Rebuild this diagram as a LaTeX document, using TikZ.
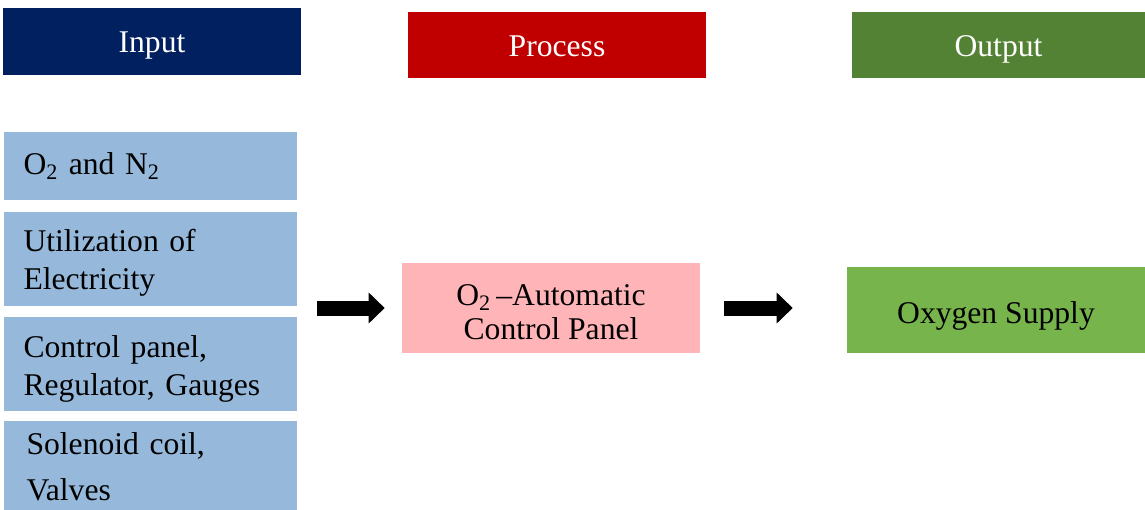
\documentclass[tikz,border=0pt]{standalone}
\usepackage{fontspec}
\setmainfont{Liberation Serif}
\usepackage{xcolor}
\usetikzlibrary{positioning, arrows.meta}

\definecolor{InHead}{HTML}{002060}
\definecolor{ProcHead}{HTML}{C00000}
\definecolor{OutHead}{HTML}{548235}
\definecolor{InFill}{HTML}{96B9DB}
\definecolor{ProcFill}{HTML}{FFB5B8}
\definecolor{OutFill}{HTML}{78B44C}

\newcommand{\LineLift}{\rule{0pt}{17pt}}

\begin{document}
\begin{tikzpicture}[x=0.02cm, y=-0.02cm,
					HeadNode/.style={inner sep=0pt, minimum width=5.96cm, minimum height=1.32cm, text height=17pt, text depth=4pt, text=white, font=\fontsize{18}{21.6}\selectfont},
					InNode/.style={fill=InFill, inner sep=0pt, inner xsep=0.4cm, text width=5.08cm, align=left, font=\fontsize{18}{21.6}\selectfont},
					FlowNode/.style={inner sep=0pt, minimum width=5.96cm, align=center, font=\fontsize{18}{19.4}\selectfont},
					FlowArrow/.style={line width=0.3cm, -{Triangle[width=0.6cm, length=0.32cm]}}]

				\useasboundingbox (0,0) rectangle (1145,510);

				% Headers
				\node[HeadNode, fill=InHead, minimum height=1.34cm] (InTitle) at (152,41.5) {Input};
				\node[HeadNode, fill=ProcHead] (ProcTitle) at (557,45) {Process};
				\node[HeadNode, fill=OutHead, minimum width=5.86cm] (OutTitle) at (998.5,45) {Output};

				% Input column
				\node[InNode, minimum height=1.36cm] (InA) at (150.5,166) {O\textsubscript{2} and N\textsubscript{2}};
				\node[InNode, minimum height=1.88cm] (InB) [below=0.22cm of InA] {\LineLift Utilization of\\Electricity};
				\node[InNode, minimum height=1.88cm] (InC) [below=0.22cm of InB] {\rule{0pt}{17.5pt}Control panel,\\Regulator, Gauges};
				\node[InNode, minimum height=1.82cm, font=\fontsize{18}{26}\selectfont] (InD) [below=0.18cm of InC] {\hspace*{0.06cm}Solenoid coil,\\\hspace*{0.06cm}Valves};

				% Process and output
				\node[FlowNode, fill=ProcFill, minimum height=1.8cm] (Proc) at (551,308) {\LineLift O\textsubscript{2}\,\textendash Automatic\\Control Panel};
				\node[FlowNode, fill=OutFill, minimum height=1.72cm, text height=19pt, text depth=4pt] (Out) at (996,310) {Oxygen Supply};

				% Arrows
				\draw[FlowArrow, shorten <=0.38cm, shorten >=0.34cm] (Proc.west -| InB.east) -- (Proc.west);
				\draw[FlowArrow, shorten <=0.48cm, shorten >=1.08cm] (Proc.east) -- (Proc.east -| Out.west);
			\end{tikzpicture}
\end{document}
